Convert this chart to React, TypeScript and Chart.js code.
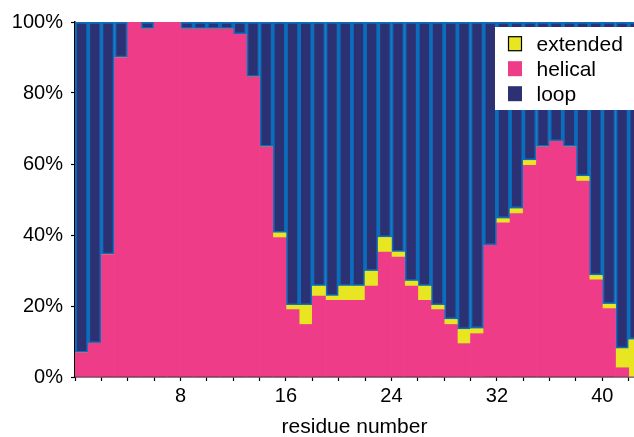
import React, { useEffect, useRef } from 'react';
import { Chart, registerables } from 'chart.js';

Chart.register(...registerables);

// residue index (bar i covers residue i, drawn between i-1 and i on the axis)
const residues = [
  1, 2, 3, 4, 5, 6, 7, 8, 9, 10, 11, 12, 13, 14, 15, 16, 17, 18, 19, 20, 21,
  22, 23, 24, 25, 26, 27, 28, 29, 30, 31, 32, 33, 34, 35, 36, 37, 38, 39, 40, 41, 42, 43,
];

const helical = [
  6.8, 9.5, 34.5, 90, 100, 98, 100, 100, 98, 98, 98, 98, 96.5, 84.5, 64.8, 39.3, 19, 14.8,
  22.8, 21.6, 21.6, 21.6, 25.6, 35.2, 33.8, 25.6, 21.6, 19, 14.8, 9.4, 12.2, 37.1, 43.4, 46,
  59.6, 64.8, 66.4, 64.8, 55.2, 27.4, 19.3, 2.6, 0,
];

const extended = [
  0, 0, 0, 0, 0, 0, 0, 0, 0, 0, 0, 0, 0, 0, 0, 1.3, 1.2, 5.4, 2.8, 1.2, 4, 4, 4.2, 4.1, 1.4,
  1.4, 4, 1.2, 1.4, 4, 1.4, 0, 1.2, 1.4, 1.4, 0, 0, 0, 1.3, 1.2, 1.2, 5.4, 10.5,
];

const loop = [
  93.2, 90.5, 65.5, 10, 0, 2, 0, 0, 2, 2, 2, 2, 3.5, 15.5, 35.2, 59.4, 79.8, 79.8, 74.4, 77.2,
  74.4, 74.4, 70.2, 60.7, 64.8, 73, 74.4, 79.8, 83.8, 86.6, 86.4, 62.9, 55.4, 52.6, 39, 35.2,
  33.6, 35.2, 43.5, 71.4, 79.5, 92, 89.5,
];

const xLabelEvery = 8;
const yTicks = [0, 20, 40, 60, 80, 100];

const FONT = "'Liberation Sans', Arial, Helvetica, sans-serif";
const NAVY = '#2c3174';
const BLUE = '#0a6ebd';
const PINK = '#ee3c89';
const YELLOW = '#e7e620';

const toPoints = (vals: number[]) => vals.map((v, i) => ({ x: residues[i] - 0.5, y: v }));

const legendPlugin = {
  id: 'insetLegend',
  afterDraw(chart: any) {
    const ctx = chart.ctx as CanvasRenderingContext2D;
    const ds = chart.data.datasets;
    const order = [1, 0, 2];
    ctx.save();
    ctx.fillStyle = '#ffffff';
    ctx.fillRect(495, 27, 150, 83);
    ctx.font = `21px ${FONT}`;
    ctx.textBaseline = 'alphabetic';
    ctx.textAlign = 'left';
    order.forEach((di, row) => {
      const d = ds[di];
      const base = 50.7 + row * 25;
      ctx.fillStyle = d.backgroundColor;
      ctx.fillRect(508, base - 14.5, 14, 15);
      if (d.label === 'extended') {
        ctx.strokeStyle = '#000';
        ctx.lineWidth = 1.2;
        ctx.strokeRect(508.5, base - 14, 13, 14);
      }
      ctx.fillStyle = '#000';
      ctx.fillText(d.label, 536.5, base);
    });
    ctx.restore();
  },
};

export default function App() {
  const ref = useRef<HTMLCanvasElement | null>(null);

  useEffect(() => {
    if (!ref.current) return;
    Chart.defaults.color = '#000';
    const chart = new Chart(ref.current, {
      type: 'bar',
      data: {
        datasets: [
          {
            label: 'helical',
            data: toPoints(helical),
            backgroundColor: PINK,
            borderWidth: 0,
          },
          {
            label: 'extended',
            data: toPoints(extended),
            backgroundColor: YELLOW,
            borderWidth: 0,
          },
          {
            label: 'loop',
            data: toPoints(loop),
            backgroundColor: NAVY,
            borderColor: BLUE,
            borderWidth: 2.2,
            borderSkipped: false,
          },
        ],
      },
      options: {
        responsive: false,
        animation: false,
        events: [],
        barPercentage: 1,
        categoryPercentage: 1,
        layout: { padding: { top: 22, right: 0, left: 0, bottom: 0 } },
        plugins: {
          legend: { display: false },
          tooltip: { enabled: false },
        },
        scales: {
          x: {
            type: 'linear',
            stacked: true,
            min: 0,
            max: 42.4,
            offset: false,
            afterFit: (s: any) => {
              s.height = 60;
            },
            grid: {
              offset: false,
              drawOnChartArea: false,
              drawTicks: true,
              tickLength: 4,
              tickWidth: 1.2,
              tickColor: '#000',
            },
            border: { display: true, color: '#000', width: 1.5 },
            ticks: {
              stepSize: 2,
              autoSkip: false,
              maxRotation: 0,
              includeBounds: false,
              padding: 3,
              font: { family: FONT, size: 20 },
              color: '#000',
              callback: (v: any) => (Number(v) > 0 && Number(v) % xLabelEvery === 0 ? String(v) : ''),
            },
            title: {
              display: true,
              text: 'residue number',
              color: '#000',
              font: { family: FONT, size: 21, lineHeight: 0.9 },
              padding: 0,
            },
          },
          y: {
            stacked: true,
            min: 0,
            max: 100,
            afterFit: (s: any) => {
              s.width = 75;
            },
            afterBuildTicks: (s: any) => {
              s.ticks = yTicks.map((v) => ({ value: v }));
            },
            grid: {
              drawOnChartArea: false,
              drawTicks: true,
              tickLength: 4,
              tickWidth: 1.2,
              tickColor: '#000',
            },
            border: { display: true, color: '#000', width: 1.5 },
            ticks: {
              padding: 8,
              font: { family: FONT, size: 20 },
              color: '#000',
              callback: (v: any) => `${v}%`,
            },
          },
        },
      } as any,
      plugins: [legendPlugin],
    });
    return () => chart.destroy();
  }, []);

  return (
    <div style={{ position: 'absolute', left: 0, top: 0, width: 634, height: 437 }}>
      <canvas ref={ref} width={634} height={437} style={{ display: 'block' }} />
    </div>
  );
}
